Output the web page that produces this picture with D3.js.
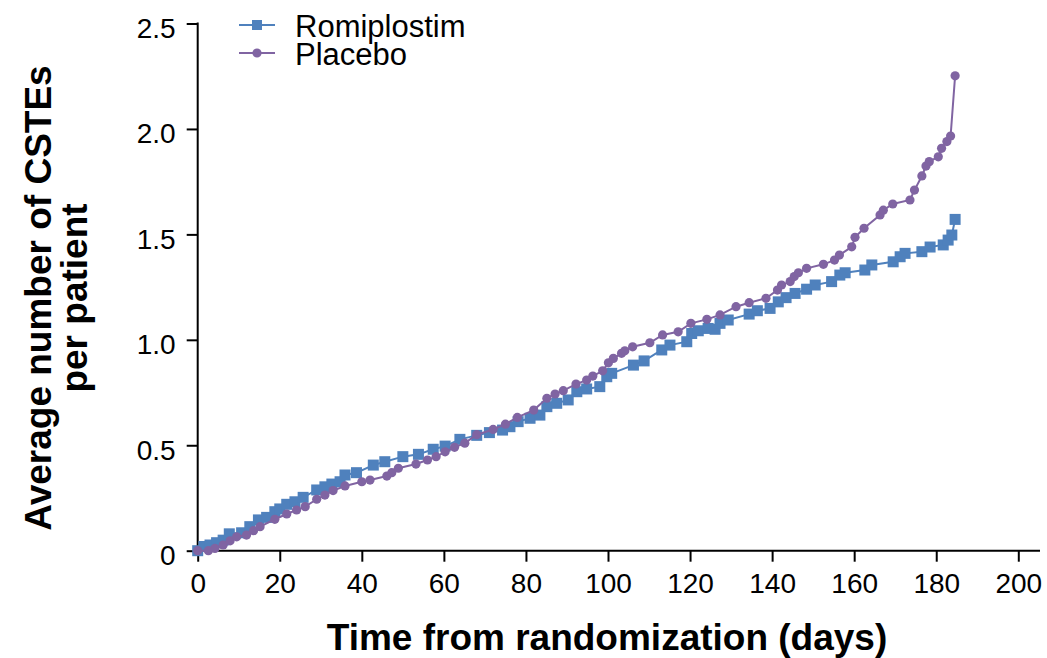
<!DOCTYPE html>
<html>
<head>
<meta charset="utf-8">
<script src="https://cdn.jsdelivr.net/npm/d3@7"></script>
<style>
  body { margin: 0; background: #fff; }
  text { font-family: "Liberation Sans", Arial, sans-serif; fill: #000; }
</style>
</head>
<body>
<div id="plot"></div>
<script>
// data
const romiDays = [0, 1.5, 3, 4.6, 6.2, 7.7, 10.7, 12.7, 14.8, 16.8, 18.8, 20, 21.7, 23.7, 25.7, 29, 31, 32.7, 34.7, 35.9, 38.7,
  42.8, 45.6, 50, 53.8, 57.4, 60.3, 63.9, 68, 71.1, 74.3, 76.1, 78.1, 81, 83.4, 85.1, 87.5, 90.3, 92.4, 94.8, 98,
  99.7, 100.9, 106.2, 108.8, 113.1, 115.1, 119.2, 120.4, 122, 124.4, 126.1, 127.3, 129.3, 134.4, 136.4, 139.5,
  141.5, 143.4, 145.6, 148.4, 150.5, 154.5, 156.5, 157.8, 162.6, 164.3, 169.5, 171.2, 172.4, 176.5, 178.5, 181.7,
  182.9, 183.8, 184.6];
const romiValues = [0, 0.02, 0.027, 0.038, 0.05, 0.08, 0.085, 0.114, 0.146, 0.158, 0.185, 0.198, 0.22, 0.232, 0.253, 0.288, 0.303, 0.316, 0.327, 0.359, 0.37,
  0.406, 0.422, 0.446, 0.457, 0.481, 0.496, 0.528, 0.547, 0.56, 0.572, 0.588, 0.612, 0.628, 0.643, 0.683, 0.699, 0.715, 0.754, 0.767, 0.778,
  0.825, 0.841, 0.88, 0.9, 0.952, 0.975, 0.991, 1.03, 1.043, 1.054, 1.05, 1.078, 1.094, 1.122, 1.138, 1.149,
  1.18, 1.2, 1.22, 1.24, 1.26, 1.276, 1.307, 1.318, 1.331, 1.355, 1.37, 1.394, 1.41, 1.418, 1.44, 1.45,
  1.473, 1.497, 1.571];

const placeboDays = [0, 2.6, 4.2, 6.2, 7.9, 9.5, 11.9, 13.6, 15.2, 18.8, 21.7, 24.1, 26.2, 29, 31, 33, 35.9, 40, 42, 46.1, 47.3,
  48.9, 53.2, 56, 58.1, 60.3, 62.6, 65.1, 68, 72, 75, 77.9, 81.9, 85.1, 87.1, 89.1, 92.2, 94.8, 96.3, 98.7, 100.1, 101.3,
  103.3, 104.1, 106, 110.2, 113.3, 117.1, 120.2, 124.1, 127.3, 131.2, 134.4, 138.5, 141.3, 142.3, 144.4, 145.4,
  146.4, 148.4, 152.5, 155.2, 156.4, 159.4, 160.2, 162.4, 166.3, 167.1, 169.4, 173.6, 174.7, 176.5, 177.5, 178.3,
  180.5, 181.3, 182.6, 183.5, 184.6];
const placeboValues = [0, 0, 0.011, 0.027, 0.047, 0.066, 0.074, 0.095, 0.114, 0.149, 0.174, 0.193, 0.209, 0.244, 0.264, 0.285, 0.307, 0.327, 0.335, 0.354, 0.37,
  0.391, 0.411, 0.43, 0.446, 0.469, 0.49, 0.51, 0.55, 0.575, 0.6, 0.632, 0.667, 0.723, 0.743, 0.759, 0.79, 0.809, 0.828, 0.853, 0.891, 0.912,
  0.936, 0.948, 0.967, 0.986, 1.023, 1.038, 1.078, 1.097, 1.118, 1.157, 1.176, 1.197, 1.236, 1.26, 1.276, 1.3,
  1.318, 1.339, 1.358, 1.378, 1.402, 1.441, 1.486, 1.529, 1.592, 1.615, 1.644, 1.663, 1.71, 1.777, 1.824, 1.845,
  1.868, 1.908, 1.94, 1.966, 2.252];

const xTicks = [0, 20, 40, 60, 80, 100, 120, 140, 160, 180, 200];
const yTicks = [0, 0.5, 1.0, 1.5, 2.0, 2.5];
const yTickLabels = ["0", "0.5", "1.0", "1.5", "2.0", "2.5"];

const seriesNames = ["Romiplostim", "Placebo"];
const seriesColors = ["#4F81BD", "#8064A2"];

window.addEventListener("load", main);

function main() {
  const width = 1047, height = 658;
  const svg = d3.select("#plot").append("svg")
    .attr("width", width)
    .attr("height", height);

  const x = d3.scaleLinear().domain([0, 200]).range([197.7, 1018.3]);
  const y = d3.scaleLinear().domain([0, 2.5]).range([550.7, 23.5]);

  // axes
  const xAxis = svg.append("g")
    .attr("transform", `translate(0,${y(0)})`)
    .call(d3.axisBottom(x).tickValues(xTicks).tickSize(11).tickPadding(11).tickFormat(d3.format("d")));
  xAxis.select(".domain").remove();
  xAxis.selectAll("line").attr("stroke", "#000").attr("stroke-width", 2);
  xAxis.selectAll("text").style("font-size", "28px").attr("fill", "#000");

  const yAxis = svg.append("g")
    .attr("transform", `translate(${x(0)},0)`)
    .call(d3.axisLeft(y).tickValues(yTicks).tickSize(11).tickPadding(11)
      .tickFormat((d, i) => yTickLabels[i]));
  yAxis.select(".domain").remove();
  yAxis.selectAll("line").attr("stroke", "#000").attr("stroke-width", 2);
  yAxis.selectAll("text").style("font-size", "28px").attr("fill", "#000").attr("dy", "0.5em");

  svg.append("line")
    .attr("x1", x(0)).attr("x2", 1040)
    .attr("y1", y(0)).attr("y2", y(0))
    .attr("stroke", "#000").attr("stroke-width", 2);
  svg.append("line")
    .attr("x1", x(0)).attr("x2", x(0))
    .attr("y1", y(2.5) - 1).attr("y2", y(0))
    .attr("stroke", "#000").attr("stroke-width", 2);

  // axis titles
  svg.append("text")
    .attr("x", 607).attr("y", 650)
    .attr("text-anchor", "middle")
    .style("font-size", "37px").style("font-weight", "bold")
    .text("Time from randomization (days)");

  const yTitle = svg.append("text")
    .attr("transform", "translate(0,298) rotate(-90)")
    .attr("text-anchor", "middle")
    .style("font-size", "37px").style("font-weight", "bold");
  yTitle.append("tspan").attr("x", 0).attr("y", 51).text("Average number of CSTEs");
  yTitle.append("tspan").attr("x", 0).attr("y", 87).text("per patient");

  const line = d3.line().x(d => x(d[0])).y(d => y(d[1]));

  const romi = romiDays.map((d, i) => [d, romiValues[i]]);
  const placebo = placeboDays.map((d, i) => [d, placeboValues[i]]);

  // romiplostim
  svg.append("path").datum(romi)
    .attr("d", line).attr("fill", "none")
    .attr("stroke", seriesColors[0]).attr("stroke-width", 2);
  svg.append("g").selectAll("rect").data(romi).join("rect")
    .attr("x", d => x(d[0]) - 5.5).attr("y", d => y(d[1]) - 5.5)
    .attr("width", 11).attr("height", 11)
    .attr("fill", seriesColors[0]);

  // placebo
  svg.append("path").datum(placebo)
    .attr("d", line).attr("fill", "none")
    .attr("stroke", seriesColors[1]).attr("stroke-width", 2);
  svg.append("g").selectAll("circle").data(placebo).join("circle")
    .attr("cx", d => x(d[0])).attr("cy", d => y(d[1]))
    .attr("r", 4.6)
    .attr("fill", seriesColors[1]);

  // legend
  const legend = svg.append("g");
  seriesNames.forEach((name, i) => {
    const ly = 25 + i * 28;
    legend.append("line")
      .attr("x1", 239).attr("x2", 275).attr("y1", ly).attr("y2", ly)
      .attr("stroke", seriesColors[i]).attr("stroke-width", 2);
    if (i === 0) {
      legend.append("rect").attr("x", 252).attr("y", ly - 5).attr("width", 10).attr("height", 10)
        .attr("fill", seriesColors[i]);
    } else {
      legend.append("circle").attr("cx", 257).attr("cy", ly).attr("r", 4.6)
        .attr("fill", seriesColors[i]);
    }
    legend.append("text")
      .attr("x", 295).attr("y", ly + 12)
      .style("font-size", "31px")
      .text(name);
  });
}
</script>
</body>
</html>
